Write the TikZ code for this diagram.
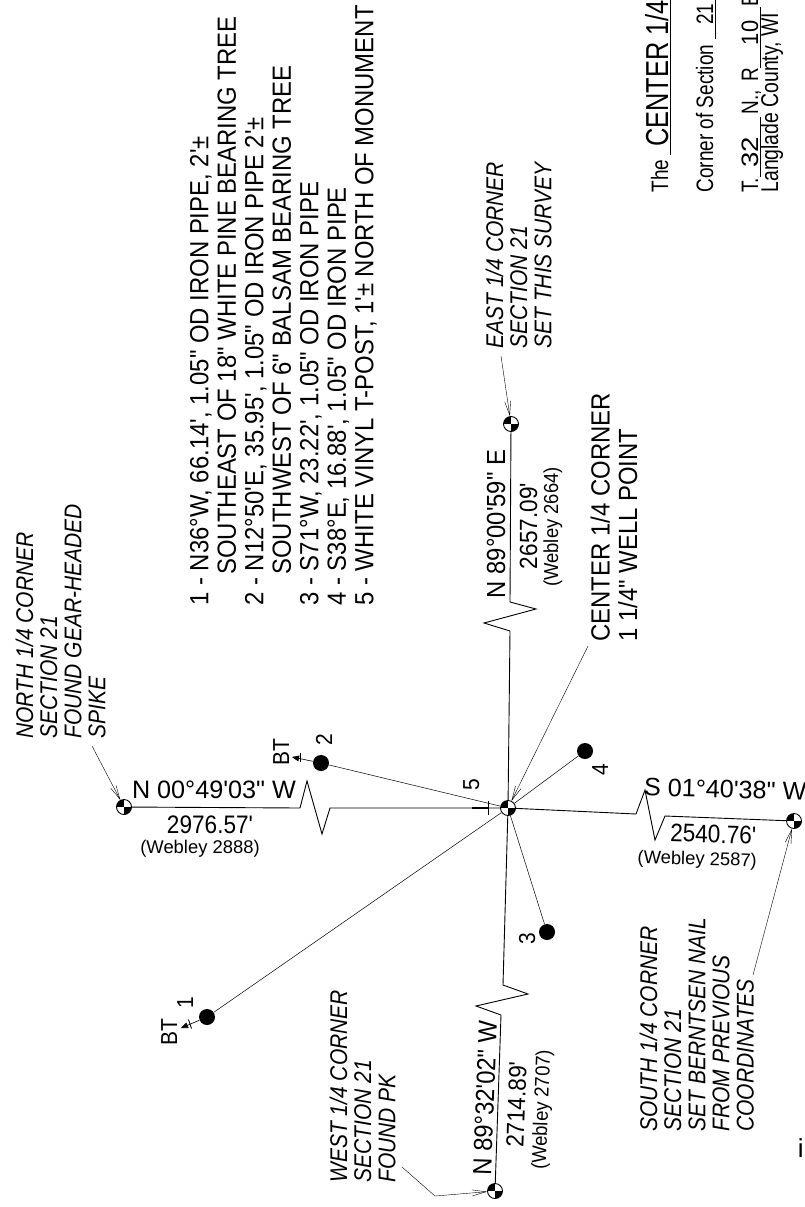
\documentclass[tikz,border=0pt]{standalone}
\usepackage{fontspec}
\usepackage{graphicx}
\usepackage{tikz}
\usetikzlibrary{arrows,arrows.meta}
\defaultfontfeatures[\rmfamily]{}
\setmainfont{Liberation Sans}

\begin{document}
\begin{tikzpicture}[-,x=1pt,y=-1pt,line width=0.9pt,
                    mon node/.style={circle,draw,fill=white,inner sep=0pt,minimum size=15pt,
                      path picture={\fill[black] (path picture bounding box.center) rectangle (path picture bounding box.north west);
                                    \fill[black] (path picture bounding box.center) rectangle (path picture bounding box.south east);}},
                    tree node/.style={circle,fill=black,inner sep=0pt,minimum size=16pt},
                    note/.style={rotate=90,yscale=1.15,anchor=north west,inner sep=0pt,align=left,font=\fontsize{21}{21}\selectfont\itshape},
                    list/.style={rotate=90,yscale=1.1,anchor=north west,inner sep=0pt,align=left,font=\fontsize{23.9}{25}\selectfont},
                    vtext/.style={rotate=90,yscale=1.1,anchor=base,inner sep=0pt},
                    htext/.style={anchor=base,inner sep=0pt},
                    title/.style={rotate=90,yscale=1.25,anchor=base west,inner sep=0pt,font=\fontsize{19}{19}\selectfont},
                    bear/.style={font=\fontsize{25.2}{26}\selectfont},
                    bearv/.style={font=\fontsize{23.8}{24}\selectfont},
                    dist/.style={font=\fontsize{22.6}{23}\selectfont},
                    web/.style={font=\fontsize{18.4}{19}\selectfont},
                    tag/.style={font=\fontsize{21}{21}\selectfont},
                    leader/.style={line width=0.4pt,-{Straight Barb[length=14pt,width=6pt]}}]
  \useasboundingbox (0,0) rectangle (804,1207);
  \clip (0,0) rectangle (804,1207);

  \node[mon node] (center) at (508,808) {};
  \node[mon node] (north) at (124,807) {};
  \node[mon node] (east) at (511,424) {};
  \node[mon node] (south) at (794,821) {};
  \node[mon node] (west) at (495,1191) {};
  \node[tree node] (tree1) at (207,1017) {};
  \node[tree node] (tree2) at (321,763) {};
  \node[tree node] (tree3) at (547,932) {};
  \node[tree node] (tree4) at (585,751) {};

  \coordinate (n1) at (300,808);
  \coordinate (n2) at (307,781);
  \coordinate (n3) at (322,834);
  \coordinate (n4) at (330,808);
  \coordinate (e1) at (510,631);
  \coordinate (e2) at (484,623);
  \coordinate (e3) at (536,609);
  \coordinate (e4) at (510,602);
  \coordinate (s1) at (636,814);
  \coordinate (s2) at (645,790);
  \coordinate (s3) at (655,840);
  \coordinate (s4) at (665,816);
  \coordinate (w1) at (503,985);
  \coordinate (w2) at (528,994);
  \coordinate (w3) at (476,1006);
  \coordinate (w4) at (501,1015);
  \coordinate (bt1) at (181,1028);
  \coordinate (bt2) at (292,757);

  \draw (north) -- (n1) -- (n2) -- (n3) -- (n4) -- (center);
  \draw (center) -- (e1) -- (e2) -- (e3) -- (e4) -- (east);
  \draw (center) -- (s1) -- (s2) -- (s3) -- (s4) -- (south);
  \draw (center) -- (w1) -- (w2) -- (w3) -- (w4) -- (west);
  \path[line width=0.5pt]
    (center) edge (tree1)
             edge (tree2)
             edge (tree3)
             edge (tree4);
  \draw[line width=0.6pt,-triangle 45] (tree1) -- (bt1);
  \draw[line width=0.6pt,-triangle 45] (tree2) -- (bt2);
  \draw (188.5,1019.5) -- (191.5,1028.5);
  \draw (300,753) -- (300,762);
  \draw[line width=1.4pt] (472,808) -- (488,808);
  \draw (488,801) -- (488,815);

  \coordinate (ln) at (92,746);
  \coordinate (le) at (501,356);
  \coordinate (lc) at (588,646);
  \coordinate (ls) at (753,975);
  \coordinate (lw1) at (402,1167);
  \coordinate (lw2) at (435,1196);
  \draw[leader] (ln) -- (north);
  \draw[leader] (le) -- (east);
  \draw[leader] (lc) -- (center);
  \draw[leader] (ls) -- (south);
  \draw[leader] (lw1) -- (lw2) -- (west);

  \node[note] (ntext) at (15,739) {NORTH 1/4 CORNER\\SECTION 21\\FOUND GEAR-HEADED\\SPIKE};
  \node[note] (etext) at (485,349) {EAST 1/4 CORNER\\SECTION 21\\SET THIS SURVEY};
  \node[note] (wtext) at (329,1183) {WEST 1/4 CORNER\\SECTION 21\\FOUND PK};
  \node[note] (stext) at (639,1132) {SOUTH 1/4 CORNER\\SECTION 21\\SET BERNTSEN NAIL\\FROM PREVIOUS\\COORDINATES};
  \node[list] (ctext) at (590,642) {CENTER 1/4 CORNER\\1 1/4" WELL POINT};
  \node[list] (items) at (189.5,606) {1 - N36°W, 66.14', 1.05" OD IRON PIPE, 2'±\\
    \hspace{31pt}SOUTHEAST OF 18" WHITE PINE BEARING TREE\\
    2 - N12°50'E, 35.95', 1.05" OD IRON PIPE 2'±\\
    \hspace{31pt}SOUTHWEST OF 6" BALSAM BEARING TREE\\
    3 - S71°W, 23.22', 1.05" OD IRON PIPE\\
    4 - S38°E, 16.88', 1.05" OD IRON PIPE\\
    5 - WHITE VINYL T-POST, 1'± NORTH OF MONUMENT};

  \node[htext,bear] (nbear) at (214,798) {N 00°49'03" W};
  \node[htext,dist,yscale=1.12] (ndist) at (210,833) {2976.57'};
  \node[htext,web] (nweb) at (200,853) {(Webley 2888)};
  \node[htext,bear,rotate=-1.7] (sbear) at (725,798) {S 01°40'38" W};
  \node[htext,dist,yscale=1.12,rotate=-1.7] (sdist) at (713,843) {2540.76'};
  \node[htext,web,rotate=-1.7] (sweb) at (697,865) {(Webley 2587)};
  \node[vtext,bearv] (ebear) at (505,524) {N 89°00'59" E};
  \node[vtext,dist] (edist) at (537,526) {2657.09'};
  \node[vtext,web] (eweb) at (558,527) {(Webley 2664)};
  \node[vtext,bearv,rotate=-2] (wbear) at (494,1098) {N 89°32'02" W};
  \node[vtext,dist,rotate=-2] (wdist) at (525,1105) {2714.89'};
  \node[vtext,web,rotate=-2] (wweb) at (548,1110) {(Webley 2707)};

  \node[vtext,tag] (bt1label) at (177,1032) {BT};
  \node[vtext,tag] (bt2label) at (289,752) {BT};
  \node[vtext,tag] (num1) at (193,1003) {1};
  \node[vtext,tag] (num2) at (332,740) {2};
  \node[vtext,tag] (num3) at (535,939) {3};
  \node[vtext,tag] (num4) at (608,770) {4};
  \node[vtext,tag] (num5) at (479,785) {5};

  \node[title] (title1) at (668,193)
    {The\hspace{5pt}\underline{\hspace{8pt}{\fontsize{25.4}{25}\selectfont CENTER 1/4}\hspace{4pt}}};
  \node[title] (title2) at (713,193)
    {Corner of Section\hspace{6pt}\underline{\hspace{14pt}21\hspace{8pt}}};
  \node[title] (title3) at (758,193)
    {T.\hspace{1pt}\underline{\hspace{9pt}\scalebox{1.45}[1]{32}\hspace{20pt}}\hspace{3pt}N.,\hspace{8pt}R\underline{\hspace{23pt}\scalebox{1.15}[1]{10}\hspace{14pt}}E};
  \node[title,font=\fontsize{19.4}{19}\selectfont] (title4) at (778,193) {Langlade County, WI};
  \node[anchor=east,inner sep=0pt,font=\fontsize{26}{26}\selectfont] (cutmark) at (804,1148) {i};
\end{tikzpicture}
\end{document}
